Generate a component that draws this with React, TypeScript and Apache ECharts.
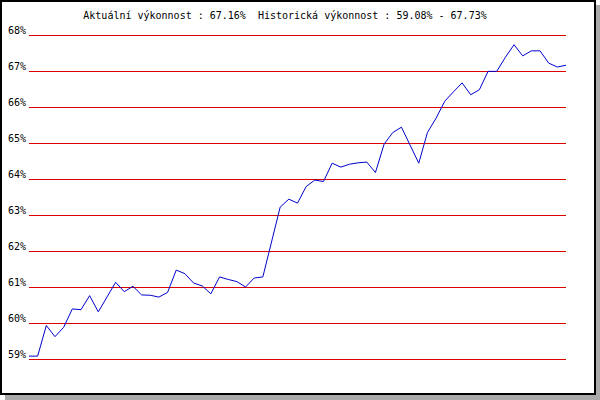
import React, { useEffect, useRef } from "react";
import * as echarts from "echarts";

const titleText = "Aktuální výkonnost : 67.16%  Historická výkonnost : 59.08% - 67.73%";

const performance: number[] = [
  59.08, 59.08, 59.93, 59.62, 59.88, 60.39, 60.37, 60.76, 60.31, 60.72,
  61.13, 60.87, 61.02, 60.78, 60.77, 60.72, 60.85, 61.47, 61.37, 61.11,
  61.03, 60.81, 61.28, 61.21, 61.15, 61.0, 61.25, 61.28, 62.25, 63.22,
  63.44, 63.33, 63.79, 63.97, 63.93, 64.44, 64.33, 64.41, 64.45, 64.47,
  64.18, 64.97, 65.29, 65.44, 64.94, 64.44, 65.29, 65.69, 66.16, 66.42,
  66.67, 66.34, 66.48, 66.99, 66.99, 67.38, 67.73, 67.42, 67.56, 67.56,
  67.22, 67.11, 67.16,
];

const categories: string[] = performance.map((_, i) => String(i + 1));

const yMin = 59;
const yMax = 68;
const yStep = 1;

const FONT = "'DejaVu Sans Mono', monospace";

export default function App() {
  const ref = useRef<HTMLDivElement>(null);
  useEffect(() => {
    if (!ref.current) return;
    const chart = echarts.init(ref.current, undefined, { renderer: "svg" });
    chart.setOption({
      animation: false,
      backgroundColor: "transparent",
      grid: { left: 29, right: 34, top: 35, height: 324, containLabel: false },
      graphic: [
        {
          type: "rect",
          z: -100,
          shape: { x: 5, y: 5, width: 595, height: 395 },
          style: { fill: "#aaaaaa" },
        },
        {
          type: "rect",
          z: -99,
          shape: { x: 1, y: 1, width: 594, height: 393 },
          style: { fill: "#ffffff", stroke: "#000000", lineWidth: 2 },
        },
        {
          type: "text",
          z: 100,
          x: 285,
          y: 15,
          style: {
            text: titleText,
            font: `10px ${FONT}`,
            fill: "#000000",
            textAlign: "center",
            textVerticalAlign: "middle",
          },
        },
      ],
      xAxis: {
        type: "category",
        data: categories,
        boundaryGap: false,
        axisLine: { show: false },
        axisTick: { show: false },
        axisLabel: { show: false },
        splitLine: { show: false },
      },
      yAxis: {
        type: "value",
        min: yMin,
        max: yMax,
        interval: yStep,
        axisLine: { show: false },
        axisTick: { show: false },
        axisLabel: {
          formatter: (v: number) => `${v}%`,
          fontFamily: FONT,
          fontSize: 10,
          color: "#000000",
          margin: 3,
          verticalAlign: "bottom",
        },
        splitLine: { show: true, lineStyle: { color: "#dd0000", width: 1 } },
      },
      series: [
        {
          type: "line",
          data: performance,
          symbol: "none",
          lineStyle: { color: "#0000cc", width: 1 },
          z: 5,
        },
      ],
    });
    return () => chart.dispose();
  }, []);
  return (
    <div
      ref={ref}
      style={{ position: "absolute", left: 0, top: 0, width: 600, height: 400 }}
    />
  );
}
